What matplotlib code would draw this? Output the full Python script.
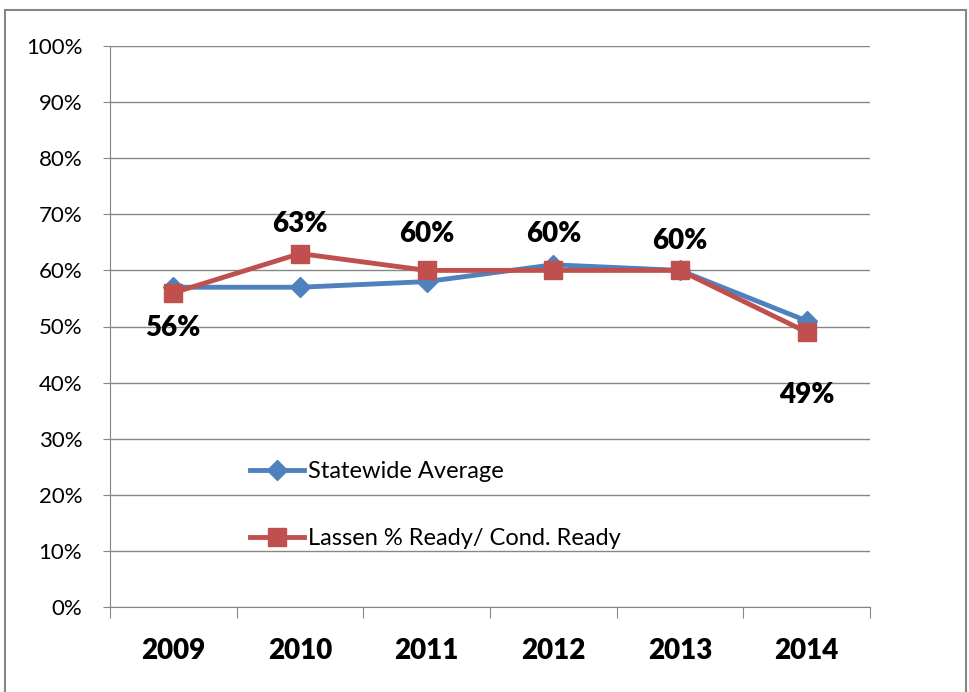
import matplotlib
matplotlib.use('Agg')
from matplotlib import pyplot as plt
from matplotlib.patches import Rectangle
import numpy as np

years = ['2009', '2010', '2011', '2012', '2013', '2014']
statewide = [57, 57, 58, 61, 60, 51]
lassen = [56, 63, 60, 60, 60, 49]
lassen_labels = ['56%', '63%', '60%', '60%', '60%', '49%']

# label offsets (points) from each red marker, as placed in the original
label_dy = [-25, 21, 26, 26, 21, -45]

plt.rcParams['font.family'] = ['Lato', 'DejaVu Sans']

fig = plt.figure(figsize=(9.69, 6.92), dpi=100)
ax = fig.add_axes([110/969, 1-607/692, 760/969, 561/692])

# outer chart border
fig.patches.append(Rectangle((5/969, -0.05), 961/969, 1.05-10/692, transform=fig.transFigure,
                             fill=False, edgecolor='#868686', lw=1.5))

x = np.arange(len(years))
ax.plot(x, statewide, color='#4F81BD', lw=3.5, marker='D', ms=10, label='Statewide Average', zorder=3)
ax.plot(x, lassen, color='#C0504D', lw=3.5, marker='s', ms=13, label='Lassen % Ready/ Cond. Ready', zorder=4)

for xi, v, txt, dy in zip(x, lassen, lassen_labels, label_dy):
    ax.annotate(txt, (xi, v), xytext=(0, dy), textcoords='offset points',
                ha='center', va='center', fontsize=20, fontweight='heavy')

ax.set_xlim(-0.5, 5.5)
ax.set_ylim(0, 100)
ax.set_yticks(np.arange(0, 101, 10))
ax.set_yticklabels([f'{v}%' for v in range(0, 101, 10)], fontsize=16)
ax.yaxis.grid(True, color='#868686', lw=1)
ax.set_axisbelow(True)

ax.set_xticks(np.arange(-0.5, 6, 1))
ax.set_xticklabels([])
ax.set_xticks(x, minor=True)
ax.set_xticklabels(years, minor=True, fontsize=20, fontweight='heavy')
ax.tick_params(axis='x', which='major', length=8, color='#868686', direction='out')
ax.tick_params(axis='x', which='minor', length=0, pad=22)
ax.tick_params(axis='y', length=5, color='#868686', pad=15)

for s in ['top', 'right']:
    ax.spines[s].set_visible(False)
for s in ['left', 'bottom']:
    ax.spines[s].set_color('#868686')

ax.legend(loc='center left', bbox_to_anchor=(0.184, 0.182), frameon=False, fontsize=17,
          labelspacing=1.95, handlelength=2.3, handletextpad=0.15, borderpad=0, borderaxespad=0)

fig.savefig('out.png', dpi=100)
